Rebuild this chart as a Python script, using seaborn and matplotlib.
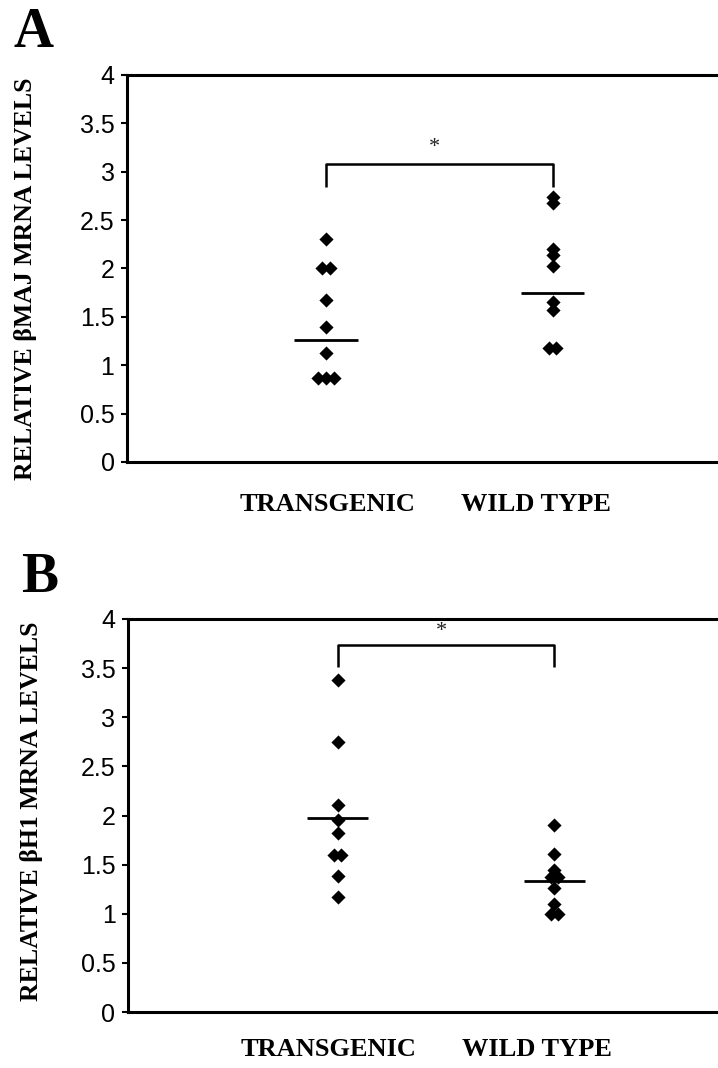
import numpy as np
import pandas as pd
import matplotlib
matplotlib.use("Agg")
import matplotlib.pyplot as plt
import seaborn as sns

# -------------------------------------------------------------------------------------
# DATA
# -------------------------------------------------------------------------------------
GROUPS = ["TRANSGENIC", "WILD TYPE"]
YTICKS = [0, 0.5, 1, 1.5, 2, 2.5, 3, 3.5, 4]

# panel A: beta-major mRNA
A_TRANSGENIC = [2.31, 2.0, 2.0, 1.67, 1.40, 1.13, 0.87, 0.87, 0.87]
A_WILD_TYPE = [2.74, 2.68, 2.20, 2.14, 2.03, 1.65, 1.57, 1.18, 1.18]
A_MEANS = [1.26, 1.75]
A_BRACKET = [2.84, 3.08]
A_STAR_Y = 3.25
A_YLABEL = "RELATIVE βMAJ MRNA LEVELS"

# panel B: beta-H1 mRNA
B_TRANSGENIC = [3.38, 2.75, 2.11, 1.95, 1.82, 1.60, 1.60, 1.38, 1.17]
B_WILD_TYPE = [1.90, 1.61, 1.45, 1.37, 1.37, 1.26, 1.10, 1.00, 1.00]
B_MEANS = [1.97, 1.33]
B_BRACKET = [3.515, 3.74]
B_STAR_Y = 3.87
B_YLABEL = "RELATIVE βH1 MRNA LEVELS"

# -------------------------------------------------------------------------------------
# LAYOUT
# -------------------------------------------------------------------------------------
W, H = 718, 1068
DPI = 100
SERIF = "Liberation Serif"
SANS = "Liberation Sans"

sns.set_theme(style="white")
plt.rcParams["font.family"] = [SANS, "DejaVu Sans"]
plt.rcParams.update({
    "text.color": "black",
    "axes.labelcolor": "black",
    "xtick.color": "black",
    "ytick.color": "black",
})


def px_rect(left, top, bottom, right=W + 2):
    """Axes rect in figure fraction from pixel edges."""
    return [left / W, (H - bottom) / H, (right - left) / W, (bottom - top) / H]


def tie_offsets(values, step):
    """Spread exactly tied values side by side, like the original dot plot."""
    s = pd.Series(values)
    rank = s.groupby(s).cumcount()
    n = s.groupby(s).transform("size")
    return ((rank - (n - 1) / 2) * step).to_numpy()


def draw_panel(fig, rect, xlim, transgenic, wild, means, bracket, star_y,
               ylabel, ylabel_xy, letter, letter_xy, label_drop, label_shift):
    ax = fig.add_axes(rect)

    frames = []
    for i, (name, vals) in enumerate(zip(GROUPS, [transgenic, wild])):
        frames.append(pd.DataFrame({
            "group": name,
            "value": vals,
            "xpos": i + tie_offsets(vals, 0.034),
        }))
    df = pd.concat(frames, ignore_index=True)

    sns.scatterplot(data=df, x="xpos", y="value", marker="D", s=52,
                    color="black", edgecolor="black", linewidth=0,
                    legend=False, ax=ax, zorder=3)

    # group mean bars
    for i, m in enumerate(means):
        ax.hlines(m, i - 0.14, i + 0.14, color="black", linewidth=2.0, zorder=2)

    # significance bracket
    lo, hi = bracket
    ax.plot([0, 0, 1, 1], [lo, hi, hi, lo], color="black", linewidth=1.8,
            solid_capstyle="butt")
    ax.text(0.48, star_y, "*", ha="center", va="center", fontsize=16,
            family=SERIF, color="#222222")

    ax.set_xlim(*xlim)
    ax.set_ylim(0, 4)
    ax.set_yticks(YTICKS)
    ax.set_yticklabels([f"{t:g}" for t in YTICKS], fontsize=18, family=SANS)
    ax.set_xticks([])

    # category names under the axis (slightly off-centre in the original)
    for i, (name, dx) in enumerate(zip(GROUPS, label_shift)):
        ax.annotate(name, xy=(i, 0), xycoords=("data", "axes fraction"),
                    xytext=(dx * 0.72, -label_drop * 0.72), textcoords="offset points",
                    ha="center", va="top", fontsize=19, family=SERIF,
                    fontweight="bold", annotation_clip=False)

    ax.tick_params(axis="y", direction="out", length=4, width=1.5, pad=5,
                   colors="black", left=True)

    ax.set_xlabel("")
    ax.set_ylabel(ylabel, fontsize=18.5, family=SERIF, fontweight="bold")
    ax.yaxis.set_label_coords(*ylabel_xy)

    for side in ["left", "top", "bottom"]:
        ax.spines[side].set_visible(True)
        ax.spines[side].set_color("black")
        ax.spines[side].set_linewidth(2.2)
    ax.spines["right"].set_visible(False)
    ax.grid(False)

    fig.text(letter_xy[0] / W, 1 - letter_xy[1] / H, letter, fontsize=40,
             family=SERIF, fontweight="bold", ha="left", va="baseline")
    return ax


fig = plt.figure(figsize=(W / DPI, H / DPI), dpi=DPI)
fig.patch.set_facecolor("white")

draw_panel(fig, px_rect(127, 75, 462), (-0.88, 1.74),
           A_TRANSGENIC, A_WILD_TYPE, A_MEANS, A_BRACKET, A_STAR_Y,
           A_YLABEL, (-0.151, 0.473), "A", (14, 47), 31, (1, -17))

draw_panel(fig, px_rect(128, 619, 1012), (-0.968, 1.764),
           B_TRANSGENIC, B_WILD_TYPE, B_MEANS, B_BRACKET, B_STAR_Y,
           B_YLABEL, (-0.144, 0.511), "B", (21, 592), 26, (-9, -18))

fig.savefig("out.png", dpi=DPI, facecolor="white")
